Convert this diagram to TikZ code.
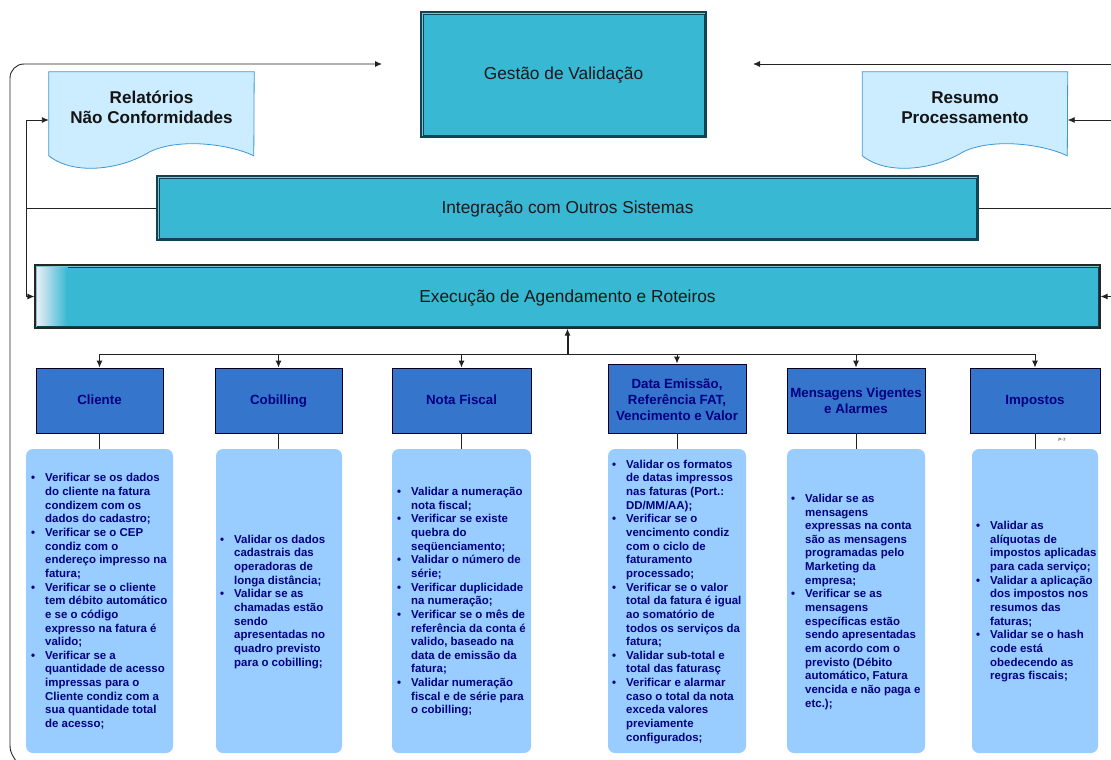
\documentclass[tikz,border=0pt]{standalone}
\usepackage{fontspec}
\setmainfont{Liberation Sans}
\usetikzlibrary{arrows.meta,shadows,calc}
\definecolor{tealbox}{HTML}{38B8D2}
\definecolor{tealgap}{HTML}{7FC4D4}
\definecolor{tealline}{HTML}{0F4452}
\definecolor{headblue}{HTML}{3575CC}
\definecolor{navytxt}{HTML}{000080}
\definecolor{bodyblue}{HTML}{99CCFF}
\definecolor{docfill}{HTML}{CCECFF}
\definecolor{docline}{HTML}{3C98D4}
\definecolor{conn}{HTML}{222222}
\definecolor{fadeleft}{HTML}{E8EEF4}
\tikzset{
  dbl/.style={draw=tealline,fill=tealgap,line width=1.1pt,inner sep=0pt},
  framed/.style={draw=tealline,fill=tealbox,line width=.9pt,inner sep=0pt},
  maintext/.style={inner sep=0pt,font=\fontsize{17.3}{20}\selectfont,text=black!90},
  headbox/.style={draw=black!85!blue,fill=headblue,line width=.9pt,inner sep=0pt,align=center,text=navytxt,
    font=\fontsize{13.3}{16}\selectfont\bfseries,drop shadow={shadow xshift=1.2pt,shadow yshift=-1.2pt,fill=black!25,opacity=.6}},
  bodybox/.style={fill=bodyblue,rounded corners=7pt,inner sep=0pt},
  bodytext/.style={anchor=west,inner sep=0pt,text=navytxt,font=\fontsize{11.45}{13.65}\selectfont\bfseries},
  doctext/.style={align=center,inner sep=0pt,font=\fontsize{17.1}{20}\selectfont\bfseries,text=black!92},
  ghost/.style={inner sep=0pt},
  conline/.style={draw=conn,line width=.9pt},
  arr/.style={conline,-{Latex[length=7pt,width=6pt]}},
  docshape/.style={fill=docfill,draw=docline,line width=.8pt},
}
\newenvironment{blist}{\begin{tabular}{@{}p{14pt}@{}l@{}}}{\end{tabular}}
\newcommand{\bu}{\textbullet}
\newcommand{\onel}[1]{\rule[-3.2pt]{0pt}{14.2pt}#1}
\newcommand{\docwave}[1]{%
  \path[docshape] (#1.north west) -- (#1.north east) -- ($(#1.north west)+(205,84)$)
  .. controls ($(#1.north west)+(180,72)$) and ($(#1.north west)+(130,66)$) .. ($(#1.north west)+(101,80)$)
  .. controls ($(#1.north west)+(72,98)$) and ($(#1.north west)+(25,104)$) .. ($(#1.north west)+(0,84)$) -- cycle;}
\begin{document}
\begin{tikzpicture}[x=1pt,y=-1pt]
\useasboundingbox (0,0) rectangle (1111,760);

% main boxes
\node[dbl,minimum width=285pt,minimum height=125pt] (gest) at (563.5,74.5) {};
\node[framed,minimum width=281pt,minimum height=121pt] (gesti) at (gest.center) {};
\node[maintext] (gestt) at (563.5,75) {Gestão de Validação};

\node[dbl,minimum width=821pt,minimum height=64pt] (integ) at (567.5,208) {};
\node[framed,minimum width=817pt,minimum height=60pt] (integi) at (integ.center) {};
\node[maintext] (integt) at (567.5,209) {Integração com Outros Sistemas};

\node[dbl,draw=black!85,minimum width=1065pt,minimum height=63pt] (exec) at (567.5,296.5) {};
\node[framed,minimum width=1061pt,minimum height=59pt] (execi) at (exec.center) {};
\foreach \i in {0,...,30}{
  \pgfmathtruncatemacro{\p}{100*\i/30}
  \fill[tealbox!\p!fadeleft] ($(execi.north west)+(\i+.5,.5)$) rectangle ($(execi.south west)+(\i+1.5,-.5)$);
}
\node[maintext] (exect) at (567.5,298) {Execução de Agendamento e Roteiros};

% documents
\node[ghost,minimum width=205pt,minimum height=96pt] (relbox) at (151.5,120) {};
\docwave{relbox}
\node[doctext] (rel) at (151.5,107.5) {Relatórios\\Não Conformidades};

\node[ghost,minimum width=205pt,minimum height=96pt] (resbox) at (965,120) {};
\docwave{resbox}
\node[doctext] (res) at (965,107.5) {Resumo\\Processamento};

% header boxes
\node[headbox,minimum width=127pt,minimum height=65pt] (cli) at (99.5,400.5) {\onel{Cliente}};
\node[headbox,minimum width=127pt,minimum height=65pt] (cob) at (278.5,400.5) {\onel{Cobilling}};
\node[headbox,minimum width=139pt,minimum height=65pt] (nf) at (461.5,400.5) {\onel{Nota Fiscal}};
\node[headbox,minimum width=138pt,minimum height=69pt] (dat) at (677,398.5) {\rule{0pt}{12.7pt}Data Emissão,\\Referência FAT,\\Vencimento e Valor};
\node[headbox,minimum width=138pt,minimum height=65pt] (men) at (856,400.5) {Mensagens Vigentes\\e Alarmes};
\node[headbox,minimum width=130pt,minimum height=65pt] (imp) at (1035,400.5) {\onel{Impostos}};

% body boxes
\node[bodybox,minimum width=147pt,minimum height=304pt] (bcli) at (99.5,601) {};
\node[bodybox,minimum width=126pt,minimum height=304pt] (bcob) at (279,601) {};
\node[bodybox,minimum width=139pt,minimum height=304pt] (bnf) at (461.5,601) {};
\node[bodybox,minimum width=138pt,minimum height=304pt] (bdat) at (677,601) {};
\node[bodybox,minimum width=138pt,minimum height=304pt] (bmen) at (856,601) {};
\node[bodybox,minimum width=126pt,minimum height=304pt] (bimp) at (1035,601) {};

% body text
\node[bodytext] (tcli) at (31,602) {\begin{blist}
\bu & Verificar se os dados\\ & do cliente na fatura\\ & condizem com os\\ & dados do cadastro;\\
\bu & Verificar se o CEP\\ & condiz com o\\ & endereço impresso na\\ & fatura;\\
\bu & Verificar se o cliente\\ & tem débito automático\\ & e se o código\\ & expresso na fatura é\\ & valido;\\
\bu & Verificar se a\\ & quantidade de acesso\\ & impressas para o\\ & Cliente condiz com a\\ & sua quantidade total\\ & de acesso;
\end{blist}};
\node[bodytext] (tcob) at (220,602) {\begin{blist}
\bu & Validar os dados\\ & cadastrais das\\ & operadoras de\\ & longa distância;\\
\bu & Validar se as\\ & chamadas estão\\ & sendo\\ & apresentadas no\\ & quadro previsto\\ & para o cobilling;
\end{blist}};
\node[bodytext] (tnf) at (397,602) {\begin{blist}
\bu & Validar a numeração\\ & nota fiscal;\\
\bu & Verificar se existe\\ & quebra do\\ & seqüenciamento;\\
\bu & Validar o número de\\ & série;\\
\bu & Verificar duplicidade\\ & na numeração;\\
\bu & Verificar se o mês de\\ & referência da conta é\\ & valido, baseado na\\ & data de emissão da\\ & fatura;\\
\bu & Validar numeração\\ & fiscal e de série para\\ & o cobilling;
\end{blist}};
\node[bodytext] (tdat) at (612,602) {\begin{blist}
\bu & Validar os formatos\\ & de datas impressos\\ & nas faturas (Port.:\\ & DD/MM/AA);\\
\bu & Verificar se o\\ & vencimento condiz\\ & com o ciclo de\\ & faturamento\\ & processado;\\
\bu & Verificar se o valor\\ & total da fatura é igual\\ & ao somatório de\\ & todos os serviços da\\ & fatura;\\
\bu & Validar sub-total e\\ & total das faturasç\\
\bu & Verificar e alarmar\\ & caso o total da nota\\ & exceda valores\\ & previamente\\ & configurados;
\end{blist}};
\node[bodytext] (tmen) at (791,602) {\begin{blist}
\bu & Validar se as\\ & mensagens\\ & expressas na conta\\ & são as mensagens\\ & programadas pelo\\ & Marketing da\\ & empresa;\\
\bu & Verificar se as\\ & mensagens\\ & específicas estão\\ & sendo apresentadas\\ & em acordo com o\\ & previsto (Débito\\ & automático, Fatura\\ & vencida e não paga e\\ & etc.);
\end{blist}};
\node[bodytext] (timp) at (976,602) {\begin{blist}
\bu & Validar as\\ & alíquotas de\\ & impostos aplicadas\\ & para cada serviço;\\
\bu & Validar a aplicação\\ & dos impostos nos\\ & resumos das\\ & faturas;\\
\bu & Validar se o hash\\ & code está\\ & obedecendo as\\ & regras fiscais;
\end{blist}};

\node[inner sep=0pt,font=\fontsize{4.6}{5}\selectfont\bfseries,text=black!60] (pg) at (1062,439.5) {P-7};

% connectors
\coordinate (hub) at (567.5,354);
\coordinate (jn) at (26,208);
\coordinate (gl) at (382,64);
\coordinate (gr) at (753,64);
\coordinate (rt) at (1111,64);
\coordinate (rr) at (1111,120);
\coordinate (ri) at (1111,208);
\coordinate (re) at (1111,296.5);
\coordinate (ob) at (16,761);
\coordinate (ob2) at (10,745);
\coordinate (oc) at (10,64);

\draw[arr] (hub) -| (cli.north);
\draw[arr] (hub) -| (cob.north);
\draw[arr] (hub) -| (nf.north);
\draw[arr] (hub) -| (dat.north);
\draw[arr] (hub) -| (men.north);
\draw[arr] (hub) -| (imp.north);
\draw[conline,line width=2pt,-{Latex[length=7pt,width=6pt]}] (hub) -- (hub |- exec.south);

\foreach \a/\b in {cli/bcli,cob/bcob,nf/bnf,dat/bdat,men/bmen,imp/bimp}
  \draw[conline] (\a.south) -- (\a.south |- \b.north);

\draw[arr] (jn) |- (relbox.west);
\draw[arr] (jn) |- (exec.west);
\draw[conline] (integ.west) -- (jn);
\draw[arr,rounded corners=14pt] (ob2) -- (oc) -- (gl);
\draw[conline] (ob2) .. controls ($(ob2)+(0,8)$) and ($(ob)+(-3,-5)$) .. (ob);
\draw[arr] (rt) -- (gr);
\draw[arr] (rr) -- (resbox.east);
\draw[conline] (integ.east) -- (ri);
\draw[arr] (re) -- (exec.east);
\end{tikzpicture}
\end{document}
